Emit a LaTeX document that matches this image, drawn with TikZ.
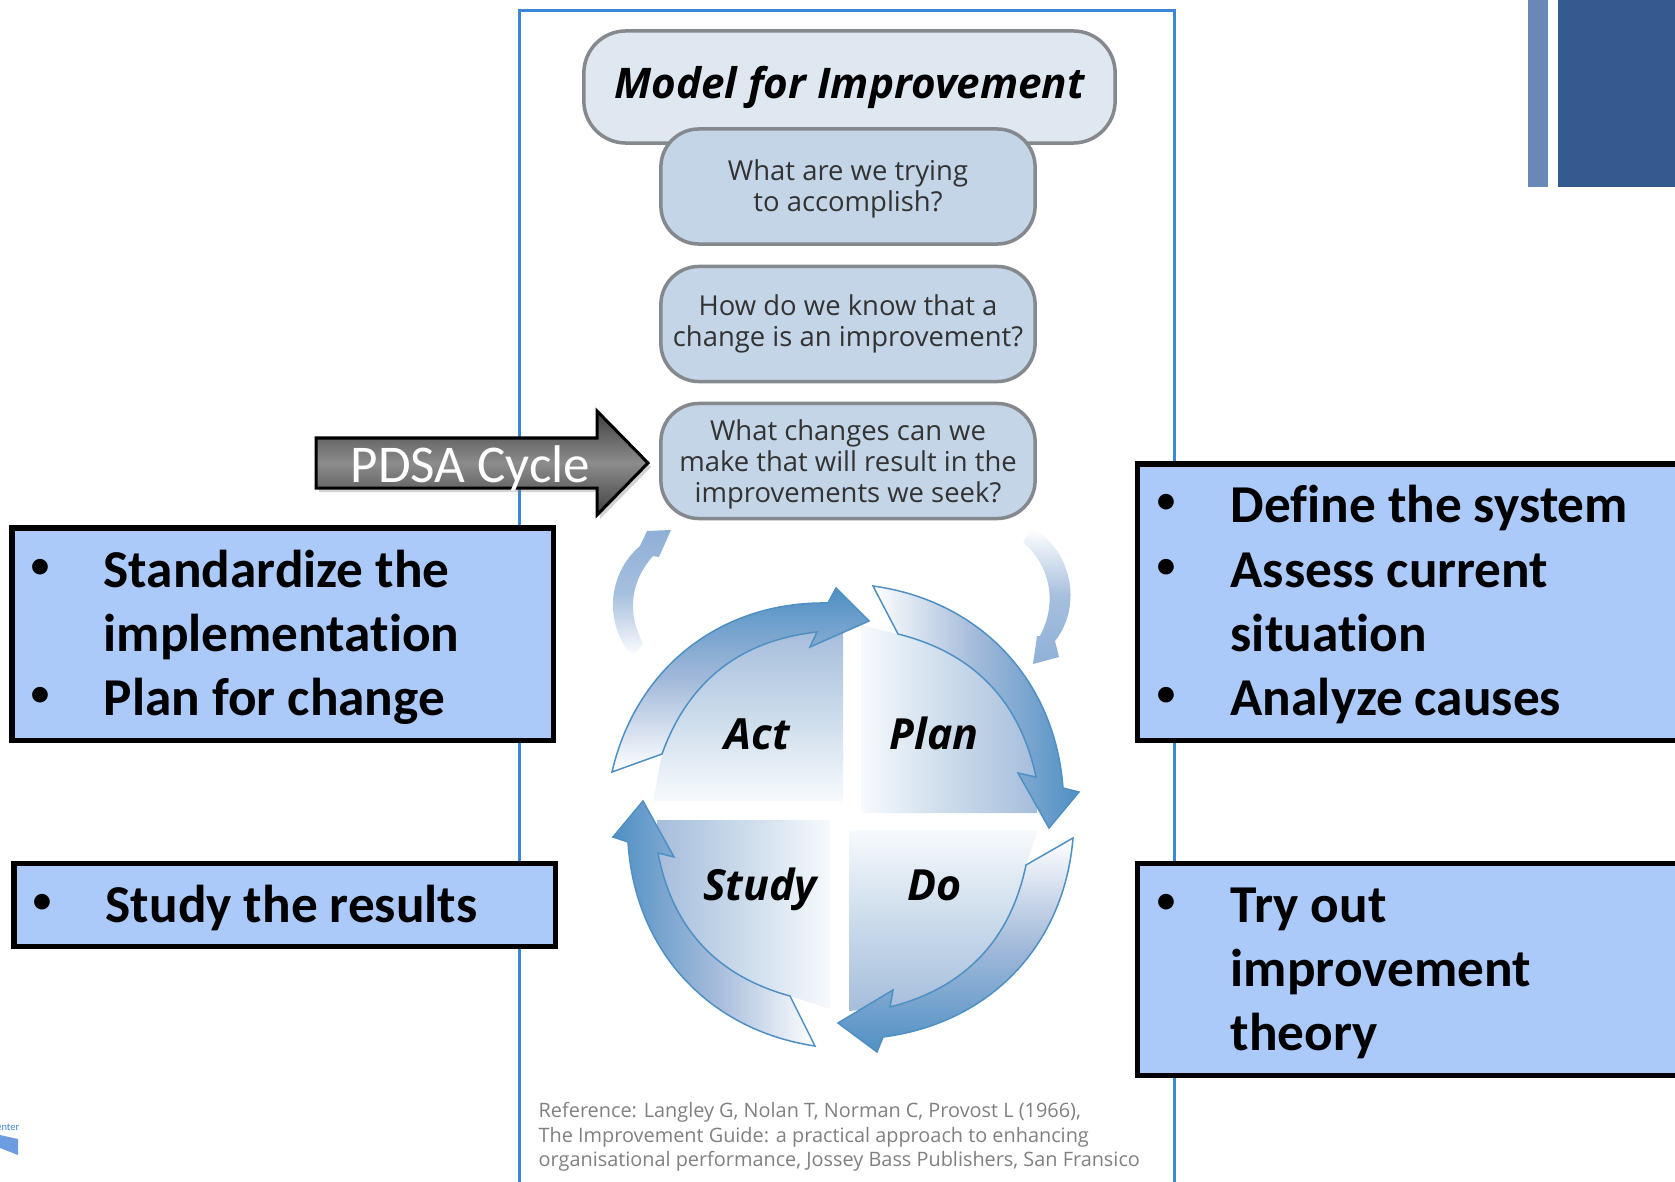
\documentclass[tikz,border=0pt]{standalone}
\usepackage{fontspec}
\setmainfont{Carlito}[Ligatures=NoCommon]
\newfontfamily\modelfont{Open Sans}
\usetikzlibrary{shadows}

\definecolor{framecol}{HTML}{3C87D6}
\definecolor{bluefill}{HTML}{ABCAF9}
\definecolor{titlefill}{HTML}{DFE7F1}
\definecolor{askfill}{HTML}{C3D5E7}
\definecolor{askline}{HTML}{85888C}
\definecolor{arrowcol}{HTML}{4F90C4}
\definecolor{arrowmid}{HTML}{A3BADA}
\definecolor{quadcol}{HTML}{A6BDDB}
\definecolor{quadmid}{HTML}{CBDBEB}
\definecolor{quadend}{HTML}{F7FAFD}
\definecolor{softcol}{HTML}{8FB0D6}
\definecolor{softmid}{HTML}{A6BFDE}

\tikzset{
  bluebox/.style={draw=black, line width=0.05cm, fill=bluefill, rectangle},
  boxline/.style={anchor=base west, inner sep=0pt, font=\bfseries\fontsize{15.15pt}{18pt}\selectfont},
  boxdot/.style={anchor=center, inner sep=0pt, font=\bfseries\fontsize{10.5pt}{12pt}\selectfont},
  askbox/.style={draw=askline, line width=0.035cm, fill=askfill, rounded corners=0.38cm, inner ysep=0pt,
    minimum width=3.74cm, minimum height=1.15cm, align=center, text=black!80,
    font=\modelfont\fontsize{7.8pt}{8.8pt}\selectfont},
  steplabel/.style={anchor=base, inner sep=0pt, font=\modelfont\bfseries\itshape\fontsize{12.2pt}{14pt}\selectfont},
  bigarrow/.style={draw=arrowcol, line width=0.015cm},
}

\begin{document}
\begin{tikzpicture}[x=0.01cm, y=-0.01cm]
  \useasboundingbox (0, 0) rectangle (1675, 1182);

  % Corner bars and logo
  \fill[fill={rgb,255:red,105;green,136;blue,184}] (1528, 0) rectangle (1548, 187);
  \fill[fill={rgb,255:red,52;green,90;blue,143}] (1558, 0) rectangle (1675, 187);
  \fill[fill={rgb,255:red,109;green,157;blue,224}] (0, 1135) -- (18, 1139) -- (18, 1155) -- (0, 1148) -- cycle;
  \node[anchor=base east, inner sep=0pt, text=framecol, font=\fontsize{3pt}{4pt}\selectfont] (logo) at (20, 1130) {enter};

  % Frame
  \draw[draw=framecol, line width=0.03cm] (519, 1200) -- (519, 11) -- (1174, 11) -- (1174, 1200);

  % Question boxes
  \node[askbox, fill=titlefill, minimum width=5.31cm, minimum height=1.12cm, rounded corners=0.42cm,
    text=black, font=\modelfont\bfseries\itshape\fontsize{12pt}{14pt}\selectfont] (model) at (849.5, 87) {Model for Improvement};
  \node[askbox] (aim) at (848, 186.5) {\rule{0pt}{7.3pt}What are we trying\\to accomplish?};
  \node[askbox] (measure) at (848, 324) {How do we know that a\\change is an improvement?};
  \node[askbox] (change) at (848, 461) {\rule{0pt}{7.7pt}What changes can we\\make that will result in the\\improvements we seek?};

  % Quadrants
  \path[top color=quadcol, bottom color=quadend, middle color=quadmid] (653, 801) -- (662, 754) to[bend left=32] (817, 632) -- (843, 630) -- (843, 801) -- cycle;
  \path[left color=quadend, right color=quadcol, middle color=quadmid] (861, 625) -- (898, 634) to[bend left=32] (1036, 777) -- (1037, 813) -- (861, 813) -- cycle;
  \path[top color=quadend, bottom color=quadcol, middle color=quadmid] (849, 830) -- (1038, 830) -- (1026, 865) to[bend left=32] (890, 1007) -- (849, 1011) -- cycle;
  \path[left color=quadcol, right color=quadend, middle color=quadmid] (657, 820) -- (830, 820) -- (830, 1009) -- (790, 996) to[bend left=32] (658, 853) -- cycle;

  % Cycle arrows
  \path[bigarrow, top color=arrowcol, bottom color=white, middle color=arrowmid] (612, 772) to[bend left=39] (828, 603) -- (836, 588) -- (869, 621) -- (810, 647) -- (817, 632) to[bend right=32] (662, 754) -- cycle;
  \path[bigarrow, left color=white, right color=arrowcol, middle color=arrowmid] (873, 586) to[bend left=39] (1063, 788) -- (1079, 792) -- (1049, 828) -- (1018, 773) -- (1036, 777) to[bend right=32] (898, 634) -- cycle;
  \path[bigarrow, top color=white, bottom color=arrowcol, middle color=arrowmid] (1073, 838) to[bend left=39] (883, 1037) -- (877, 1052) -- (838, 1023) -- (893, 990) -- (890, 1007) to[bend right=32] (1026, 865) -- cycle;
  \path[bigarrow, left color=arrowcol, right color=white, middle color=arrowmid] (815, 1046) to[bend left=39] (628, 842) -- (613, 837) -- (643, 801) -- (674, 857) -- (658, 853) to[bend right=32] (790, 996) -- cycle;

  % Outer loop arrows
  \path[top color=softcol, bottom color=white, middle color=softmid] (633, 657) to[bend left=46] (640, 546) -- (647, 531) -- (671, 530) -- (659, 557) -- (653, 556) to[bend right=35] (643, 643) -- cycle;
  \path[top color=white, bottom color=softcol, middle color=softmid] (1032, 528) to[bend left=50] (1055, 641) -- (1059, 657) -- (1033, 664) -- (1037, 636) -- (1040, 636) to[bend right=38] (1023, 542) -- cycle;

  % Quadrant labels
  \node[steplabel] (act) at (757, 749) {Act};
  \node[steplabel] (plan) at (934, 749) {Plan};
  \node[steplabel] (study) at (760, 900) {Study};
  \node[steplabel] (do) at (935, 900) {Do};

  % Reference
  \node[anchor=west, inner sep=0pt, align=left, text=black!50, font=\modelfont\fontsize{5.65pt}{7pt}\selectfont] (source) at (538, 1137)
    {Reference: Langley G, Nolan T, Norman C, Provost L (1966),\\The Improvement Guide: a practical approach to enhancing\\organisational performance, Jossey Bass Publishers, San Fransico};

  % PDSA arrow
  \path[draw=black, line width=0.03cm, top color=black!75, bottom color=black!75, middle color=black!45, drop shadow={shadow xshift=0.03cm, shadow yshift=-0.04cm, opacity=0.35}]
    (316, 438) -- (597, 438) -- (597, 411) -- (648, 463) -- (597, 515) -- (597, 488) -- (316, 488) -- cycle;
  \node[anchor=base west, inner sep=0pt, text=white, font=\fontsize{15.1pt}{18pt}\selectfont] (pdsa) at (350, 482) {PDSA Cycle};

  % Left boxes
  \draw[bluebox] (12, 528) rectangle (553, 740);
  \node[boxdot] (d1) at (40, 568) {•};
  \node[boxline] (s1) at (103, 587) {Standardize the};
  \node[boxline] (s2) at (103, 651) {implementation};
  \node[boxdot] (d2) at (40, 696) {•};
  \node[boxline] (s3) at (103, 715) {Plan for change};

  \draw[bluebox] (14, 863) rectangle (555, 946);
  \node[boxdot] (d3) at (42, 903) {•};
  \node[boxline] (r1) at (105, 922) {Study the results};

  % Right boxes
  \draw[bluebox] (1137, 464) rectangle (1690, 740);
  \node[boxdot] (d4) at (1166, 503) {•};
  \node[boxline] (t1) at (1230, 522) {Define the system};
  \node[boxdot] (d5) at (1166, 568) {•};
  \node[boxline] (t2) at (1230, 587) {Assess current};
  \node[boxline] (t3) at (1230, 651) {situation};
  \node[boxdot] (d6) at (1166, 696) {•};
  \node[boxline] (t4) at (1230, 715) {Analyze causes};

  \draw[bluebox] (1137, 863) rectangle (1690, 1075);
  \node[boxdot] (d7) at (1166, 903) {•};
  \node[boxline] (u1) at (1230, 922) {Try out};
  \node[boxline] (u2) at (1230, 986) {improvement};
  \node[boxline] (u3) at (1230, 1050) {theory};

\end{tikzpicture}
\end{document}
